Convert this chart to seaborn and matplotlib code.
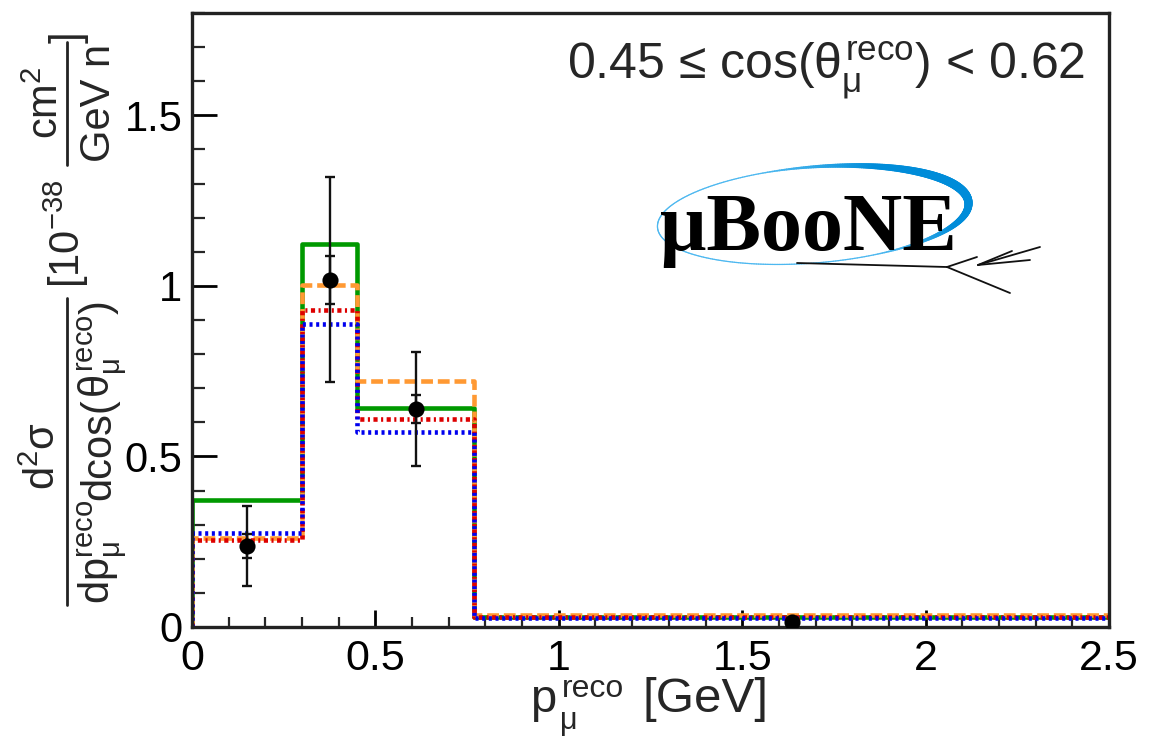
import numpy as np
import pandas as pd
import matplotlib
matplotlib.use("Agg")
import matplotlib.pyplot as plt
from matplotlib.collections import LineCollection
from matplotlib.lines import Line2D
from matplotlib.ticker import MultipleLocator, FuncFormatter
import seaborn as sns

# Bin edges in reconstructed muon momentum [GeV]
bin_edges = [0.0, 0.30, 0.45, 0.77, 2.50]

# Model predictions per bin (10^-38 cm^2 / GeV / nucleon)
pred_green = [0.372, 1.123, 0.643, 0.030]
pred_orange = [0.260, 1.003, 0.720, 0.035]
pred_red = [0.255, 0.930, 0.610, 0.030]
pred_blue = [0.275, 0.888, 0.573, 0.027]

# Measured cross section (points at bin centres)
data_x = [0.15, 0.375, 0.61, 1.635]
data_y = [0.237, 1.018, 0.639, 0.015]
data_err_total = [0.117, 0.300, 0.168, 0.010]
data_err_stat = [0.036, 0.070, 0.042, 0.005]

x_ticks = [0, 0.5, 1, 1.5, 2, 2.5]
y_ticks = [0, 0.5, 1, 1.5]

W, H = 1162, 739

sns.set_theme(style="white")
plt.rcParams["font.family"] = ["Liberation Sans", "DejaVu Sans"]
plt.rcParams["mathtext.fontset"] = "custom"
plt.rcParams["mathtext.rm"] = "Liberation Sans"
plt.rcParams["mathtext.it"] = "Liberation Sans"
plt.rcParams["mathtext.bf"] = "Liberation Sans:bold"
plt.rcParams["lines.scale_dashes"] = False

fig = plt.figure(figsize=(W / 100, H / 100), dpi=100)
ax = fig.add_axes([192 / W, (H - 627) / H, 917 / W, 614 / H])
renderer = fig.canvas.get_renderer()


def fpos(px, py):
    """Pixel position (from top-left) to figure fraction."""
    return px / W, 1 - py / H


def step_frame(values):
    xs = [bin_edges[0]] + list(bin_edges)
    ys = [0.0] + list(values) + [values[-1]]
    return pd.DataFrame({"p": xs, "xsec": ys})


hist_styles = [
    (pred_green, "#009900", None),
    (pred_orange, "#FF9933", (8.5, 3.5)),
    (pred_red, "#DD0000", (3.0, 2.5, 1.5, 2.5)),
    (pred_blue, "#0000EE", (2.2, 2.6)),
]
for vals, col, dash in hist_styles:
    sns.lineplot(data=step_frame(vals), x="p", y="xsec", ax=ax, sort=False,
                 estimator=None, drawstyle="steps-post", color=col,
                 linewidth=3.3, legend=False)
    line = ax.lines[-1]
    if dash is not None:
        line.set_dashes(dash)

# Data points with total and statistical uncertainties
ax.errorbar(data_x, data_y, yerr=data_err_total, fmt="none", ecolor="#111111",
            elinewidth=1.7, capsize=3.8, capthick=1.7, zorder=5)
ax.errorbar(data_x, data_y, yerr=data_err_stat, fmt="none", ecolor="#111111",
            elinewidth=1.7, capsize=3.8, capthick=1.7, zorder=5)
sns.scatterplot(x=data_x, y=data_y, ax=ax, color="black", s=135,
                edgecolor="black", linewidth=0, zorder=6, legend=False)

ax.set_xlim(0, 2.5)
ax.set_ylim(0, 1.8)
ax.set_xlabel("")
ax.set_ylabel("")
ax.set_xticks(x_ticks)
ax.set_yticks(y_ticks)
ax.xaxis.set_minor_locator(MultipleLocator(0.1))
ax.yaxis.set_minor_locator(MultipleLocator(0.1))
fmt = FuncFormatter(lambda v, pos: f"{v:g}")
ax.xaxis.set_major_formatter(fmt)
ax.yaxis.set_major_formatter(fmt)
ax.tick_params(axis="x", which="major", direction="in", length=12, width=2,
               labelsize=31, pad=9, bottom=True, top=False, colors="black")
ax.tick_params(axis="x", which="minor", direction="in", length=7, width=1.6,
               bottom=True, top=False)
ax.tick_params(axis="y", which="major", direction="in", length=18, width=2,
               labelsize=30, pad=7, left=True, right=False, colors="black")
ax.tick_params(axis="y", which="minor", direction="in", length=9, width=1.6,
               left=True, right=False)
for sp in ax.spines.values():
    sp.set_color("#222222")
    sp.set_linewidth(2.4)

# Angular slice label
ax.text(0.974, 0.891, r"0.45 ≤ cos($\theta_{\mu}^{reco}$) < 0.62",
        transform=ax.transAxes, ha="right", va="baseline", fontsize=36)

# x-axis title: p with stacked reco / mu indices, then the unit
fig.text(*fpos(530, 712), "p", ha="left", va="baseline", fontsize=34)
fig.text(*fpos(562, 697), "reco", ha="left", va="baseline", fontsize=23)
fig.text(*fpos(560, 729), "μ", ha="left", va="baseline", fontsize=22)
fig.text(*fpos(769, 712), "[GeV]", ha="right", va="baseline", fontsize=35.5)

# y-axis title, built as rotated pieces of a stacked fraction
lab = dict(rotation=90, rotation_mode="anchor", va="baseline", fontsize=30)


def rotated_chain(pieces, x_base, y_start):
    """Write text pieces bottom-to-top along a vertical baseline."""
    y = y_start
    for s in pieces:
        t = fig.text(*fpos(x_base, y), s, ha="left", **lab)
        y -= t.get_window_extent(renderer).height


fig.text(*fpos(55, 456), r"d$^{2}$σ", ha="center", **lab)
rotated_chain([r"dp$_{\mu}^{reco}$", "dcos(", r"$\theta_{\mu}^{reco}$", ")"],
              110, 604)
fig.add_artist(Line2D([67 / W, 67 / W], [1 - 298 / H, 1 - 605 / H],
                      transform=fig.transFigure, color="#222222", lw=2))
fig.text(*fpos(80, 234), r"[10$^{-38}$", ha="center", **lab)
fig.text(*fpos(58, 103), r"cm$^{2}$", ha="center", **lab)
fig.text(*fpos(110, 103), r"GeV n", ha="center", **lab)
fig.add_artist(Line2D([67 / W, 67 / W], [1 - 42 / H, 1 - 165 / H],
                      transform=fig.transFigure, color="#222222", lw=2))
fig.text(*fpos(80, 37), r"]", ha="center", **lab)

# Experiment logo
logo = ax.inset_axes([448 / 917, 327 / 614, 410 / 917, 150 / 614])
logo.set_xlim(0, 410)
logo.set_ylim(0, 150)
logo.axis("off")
logo.patch.set_alpha(0)

t = np.linspace(0, 2 * np.pi, 400)
a_ax, b_ax, rot = 156.0, 48.0, np.deg2rad(4.6)
cx, cy = 173.0, 85.0
ex = cx + a_ax * np.cos(t) * np.cos(rot) - b_ax * np.sin(t) * np.sin(rot)
ey = cy + a_ax * np.cos(t) * np.sin(rot) + b_ax * np.sin(t) * np.cos(rot)
pts = np.column_stack([ex, ey]).reshape(-1, 1, 2)
segs = np.concatenate([pts[:-1], pts[1:]], axis=1)
tm = 0.5 * (t[:-1] + t[1:])
weight = np.clip(np.cos(tm - 0.35), 0, 1) ** 1.5
widths = 0.9 + 5.5 * weight
light = np.array([0.40, 0.78, 0.97])
deep = np.array([0.0, 0.55, 0.85])
cols = [tuple(light + (deep - light) * min(1.0, w * 1.3 + 0.25)) for w in weight]
logo.add_collection(LineCollection(segs, linewidths=widths, colors=cols,
                                   capstyle="round"))

logo.text(168, 50, "μBooNE", ha="center", va="baseline", fontsize=59,
          fontweight="bold", family="Liberation Serif", color="black")

track_col = "#111111"
logo.plot([157, 307], [37, 33], color=track_col, lw=1.3)
logo.plot([307, 337], [33, 43], color=track_col, lw=1.3)
logo.plot([307, 370], [33, 7], color=track_col, lw=1.3)
logo.plot([338, 400], [35, 53], color=track_col, lw=1.3)
logo.plot([338, 372], [35, 49], color=track_col, lw=1.3)
logo.plot([338, 390], [35, 40], color=track_col, lw=1.3)

fig.savefig("out.png", dpi=100)
